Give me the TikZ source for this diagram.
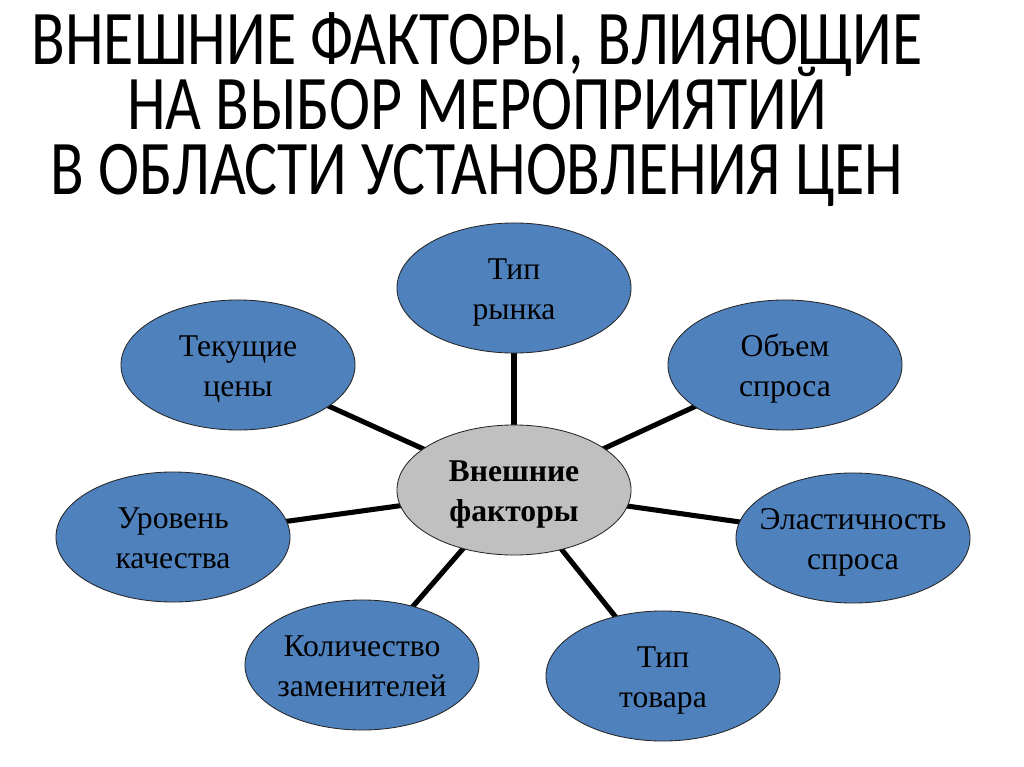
\documentclass[tikz,border=0pt]{standalone}
\usepackage{fontspec}
\setmainfont{Liberation Serif}
\newfontfamily\titlefont{Carlito}
\newcommand{\headfont}{\titlefont\fontsize{44}{37}\selectfont\lineskiplimit-60pt\relax}
\usetikzlibrary{shapes.geometric,backgrounds}
\definecolor{factorblue}{HTML}{4F81BD}
\definecolor{coregray}{HTML}{C0C0C0}
\tikzset{
  factor/.style={ellipse, draw=black!85, line width=0.6pt, fill=factorblue, minimum width=5.85cm, minimum height=3.25cm, inner xsep=-0.6cm, inner ysep=0pt, align=center, font=\fontsize{22.5}{28.5}\selectfont, text height=45.5pt, text depth=0pt},
  core/.style={factor, fill=coregray, font=\fontsize{22.5}{28.5}\selectfont\bfseries},
  link/.style={line width=3.6pt},
  heading/.style={align=center, yscale=1.25, transform shape, font=\headfont}
}
\begin{document}
\begin{tikzpicture}[x=0.025cm, y=-0.025cm]
\useasboundingbox (0,0) rectangle (1024,767);

\node (title) [heading] at (477,110) {ВНЕШНИЕ ФАКТОРЫ, ВЛИЯЮЩИЕ\\НА ВЫБОР МЕРОПРИЯТИЙ\\В ОБЛАСТИ УСТАНОВЛЕНИЯ ЦЕН};

% center and factors
\node (core) [core] at (514,490) {Внешние\\факторы};
\node (market) [factor] at (514,288) {Тип\\рынка};
\node (prices) [factor] at (238,365) {Текущие\\цены};
\node (demand) [factor] at (785,365) {Объем\\спроса};
\node (quality) [factor] at (173,537) {Уровень\\качества};
\node (elastic) [factor] at (853,538) {Эластичность\\спроса};
\node (subst) [factor] at (362,665) {Количество\\заменителей};
\node (goods) [factor] at (663,676) {Тип\\товара};

\begin{scope}[on background layer]
\foreach \f in {market,prices,demand,quality,elastic,subst,goods}
  \draw[link] (core.center) -- (\f.center);
\end{scope}

\end{tikzpicture}
\end{document}
